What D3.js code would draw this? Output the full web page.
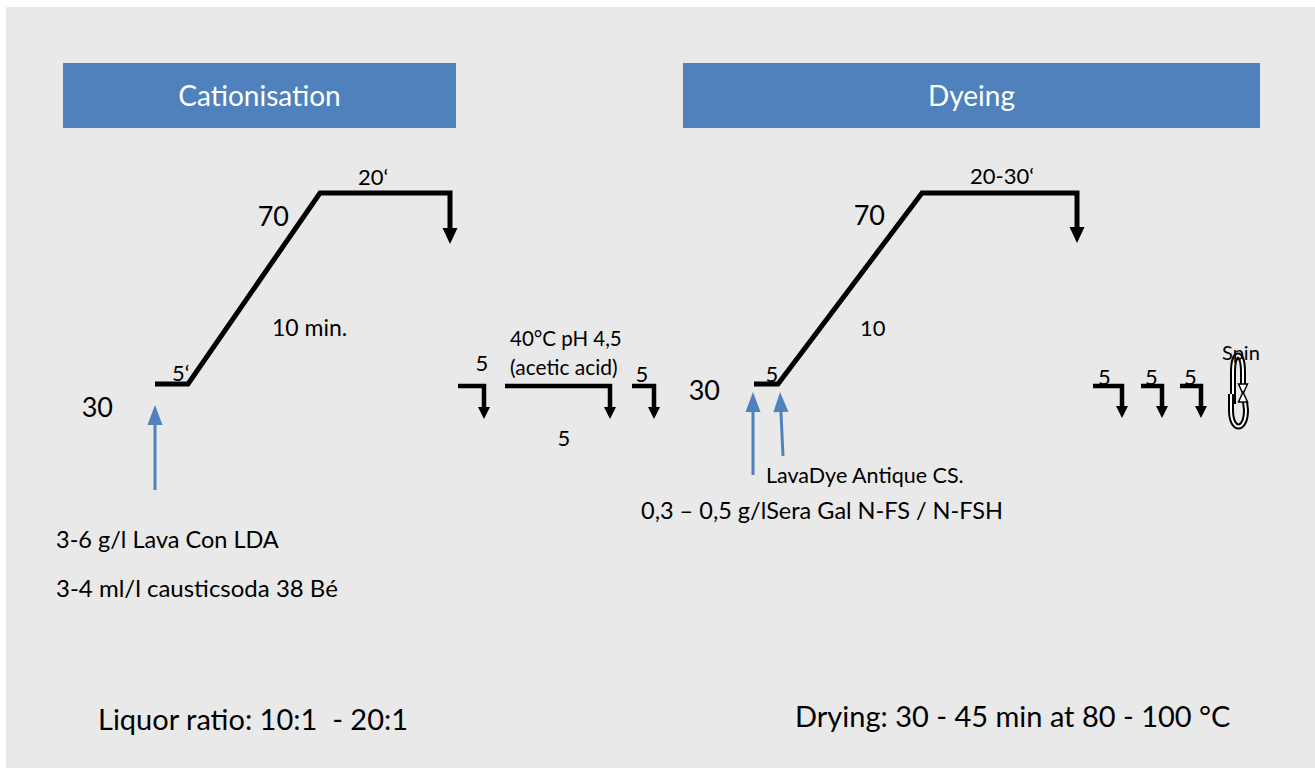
<!DOCTYPE html>
<html><head><meta charset="utf-8">
<script src="https://cdn.jsdelivr.net/npm/d3@7"></script>
<style>
body{margin:0;background:#fff}
svg{display:block}
text{font-family:Lato,"Open Sans",sans-serif;fill:#000;white-space:pre}
</style>
</head><body><svg id="c" width="1315" height="771"></svg>
<script>
// ---------------- data ----------------
const stageTitles = ["Cationisation", "Dyeing"];

// Cationisation temperature profile (schematic minutes, °C)
const cationTimes = [0, 5, 15, 35];
const cationTemps = [30, 30, 70, 70];
const cationStepLabels = ["5‘", "10 min.", "20‘"];
const cationRinseStart = [36, 42, 48];
const cationRinseEnd = [41, 47, 53];
const cationRinseLabels = ["5", "5", "5"];
const acidBath = ["40°C pH 4,5", "(acetic acid)"];
const cationChemicals = ["3-6 g/l Lava Con LDA", "3-4 ml/l causticsoda 38 Bé"];

// Dyeing temperature profile (schematic minutes, °C)
const dyeTimes = [0, 5, 15, 40];
const dyeTemps = [30, 30, 70, 70];
const dyeStepLabels = ["5", "10", "20-30‘"];
const dyeRinseStart = [43, 50, 57];
const dyeRinseEnd = [48, 55, 62];
const dyeRinseLabels = ["5", "5", "5"];
const dyeChemicals = ["LavaDye Antique CS.", "0,3 – 0,5 g/lSera Gal N-FS / N-FSH"];
const spinLabel = "Spin";

const rinseTemp = 30;
const tempLabels = ["30", "70"];
const footnotes = ["Liquor ratio: 10:1  - 20:1", "Drying: 30 - 45 min at 80 - 100 °C"];

// ---------------- layout ----------------
const svg = d3.select("#c");
const BLUE = "#4f81bd";
svg.append("rect").attr("x", 6).attr("y", 7).attr("width", 1309).attr("height", 761).attr("fill", "#e9e9e9");

// header boxes
const headerBoxes = [{x0: 63, x1: 456}, {x0: 683, x1: 1260}];
stageTitles.forEach((t, i) => {
  const b = headerBoxes[i];
  svg.append("rect").attr("x", b.x0).attr("y", 63).attr("width", b.x1 - b.x0).attr("height", 65).attr("fill", BLUE);
  svg.append("text").attr("x", (b.x0 + b.x1) / 2).attr("y", 106).attr("text-anchor", "middle")
    .style("font-size", "28px").style("fill", "#fff").text(t);
});

// scales
const y = d3.scaleLinear().domain([30, 70]).range([384, 193]);
function buildDomain(times, rs, re) {
  const d = times.slice();
  rs.forEach((s, i) => { d.push(s, re[i]); });
  return d;
}
const xC = d3.scaleLinear().domain(buildDomain(cationTimes, cationRinseStart, cationRinseEnd))
  .range([155, 188, 320, 450, 458, 484, 505, 610, 632, 654]);
const xD = d3.scaleLinear().domain(buildDomain(dyeTimes, dyeRinseStart, dyeRinseEnd))
  .range([754, 778, 922, 1077, 1093, 1122, 1141, 1162, 1180, 1201]);

function txt(x, yy, s, size, anchor) {
  return svg.append("text").attr("x", x).attr("y", yy).attr("text-anchor", anchor || "start")
    .attr("xml:space", "preserve").style("font-size", size + "px").text(s);
}
function tri(x, tipY, w, h, dir) {
  const b = tipY - dir * h;
  return `M${x - w / 2},${b}L${x + w / 2},${b}L${x},${tipY}Z`;
}

function drawProfile(x, times, temps, rs, re, dropLen, rinseDrop) {
  const pts = times.map((t, i) => [x(t), y(temps[i])]);
  const last = pts[pts.length - 1];
  const tip = last[1] + dropLen;
  const path = d3.path();
  pts.forEach((p, i) => i ? path.lineTo(p[0], p[1]) : path.moveTo(p[0], p[1]));
  path.lineTo(last[0], tip - 12);
  svg.append("path").attr("d", path.toString()).attr("fill", "none").attr("stroke", "#000")
    .attr("stroke-width", 5).attr("stroke-linejoin", "miter");
  svg.append("path").attr("d", tri(last[0], tip, 15, 16, 1)).attr("fill", "#000");
  // rinses
  rs.forEach((s, i) => {
    const x0 = x(s), x1 = x(re[i]), yy = y(rinseTemp) + 2, t2 = yy + rinseDrop;
    svg.append("path").attr("d", `M${x0},${yy}L${x1},${yy}L${x1},${t2 - 8}`).attr("fill", "none")
      .attr("stroke", "#000").attr("stroke-width", 4.5).attr("stroke-linejoin", "miter");
    svg.append("path").attr("d", tri(x1, t2, 12, 12, 1)).attr("fill", "#000");
  });
}
drawProfile(xC, cationTimes, cationTemps, cationRinseStart, cationRinseEnd, 51, 33);
drawProfile(xD, dyeTimes, dyeTemps, dyeRinseStart, dyeRinseEnd, 50, 32);

// blue arrows (dosing)
function blueArrow(xb, yb, xt, yt) {
  const ang = Math.atan2(yt - yb, xt - xb);
  const hl = 20, hw = 7.5;
  const bx = xt - Math.cos(ang) * hl, by = yt - Math.sin(ang) * hl;
  svg.append("line").attr("x1", xb).attr("y1", yb).attr("x2", bx).attr("y2", by)
    .attr("stroke", BLUE).attr("stroke-width", 3);
  const px = -Math.sin(ang) * hw, py = Math.cos(ang) * hw;
  svg.append("path").attr("d", `M${bx + px},${by + py}L${bx - px},${by - py}L${xt},${yt}Z`).attr("fill", BLUE);
}
blueArrow(xC(0), 490, xC(0), 405);
blueArrow(xD(0) - 1, 475, xD(0) - 1, 392);
blueArrow(xD(5) + 5, 456, xD(5) + 2, 392);

// ---- labels: cationisation ----
txt(113, 417, tempLabels[0], 27, "end");
txt(289, 226, tempLabels[1], 27, "end");
txt(172, 381, cationStepLabels[0], 22);
txt(272, 336, cationStepLabels[1], 23);
txt(358, 185, cationStepLabels[2], 22);
txt(482, 371, cationRinseLabels[0], 22, "middle");
txt(564, 446, cationRinseLabels[1], 22, "middle");
txt(642, 382, cationRinseLabels[2], 22, "middle");
txt(510, 346, acidBath[0], 20.5);
txt(510, 375, acidBath[1], 21);
txt(56, 548, cationChemicals[0], 23.5);
txt(56, 597, cationChemicals[1], 24);

// ---- labels: dyeing ----
txt(720, 400, tempLabels[0], 27, "end");
txt(885, 225, tempLabels[1], 27, "end");
txt(772, 382, dyeStepLabels[0], 22, "middle");
txt(860, 336, dyeStepLabels[1], 22);
txt(970, 184, dyeStepLabels[2], 22);
dyeRinseLabels.forEach((l, i) => txt((xD(dyeRinseStart[i]) + xD(dyeRinseEnd[i])) / 2 + (i === 0 ? -3 : 0), 385, l, 22, "middle"));
txt(766, 483, dyeChemicals[0], 21.5);
txt(641, 519, dyeChemicals[1], 23.5);

// spin symbol
const spin = svg.append("g");
const spinPaths = [
  "M1233,404L1233,372C1233,350 1243,350 1243,372L1243,386",
  "M1231,394L1231,410C1231,432 1246,432 1246,410L1245,402"
];
spinPaths.forEach(d => {
  spin.append("path").attr("d", d).attr("fill", "none").attr("stroke", "#000").attr("stroke-width", 6);
  spin.append("path").attr("d", d).attr("fill", "none").attr("stroke", "#fff").attr("stroke-width", 2);
});
spin.append("path").attr("d", tri(1243, 394, 9, 10, 1)).attr("fill", "#fff").attr("stroke", "#000").attr("stroke-width", 1.5);
spin.append("path").attr("d", tri(1243, 392, 9, 10, -1)).attr("fill", "#fff").attr("stroke", "#000").attr("stroke-width", 1.5);
txt(1222, 360, spinLabel, 20);

// footnotes
txt(98, 730, footnotes[0], 29);
txt(795, 727, footnotes[1], 29);
</script>
</body></html>
